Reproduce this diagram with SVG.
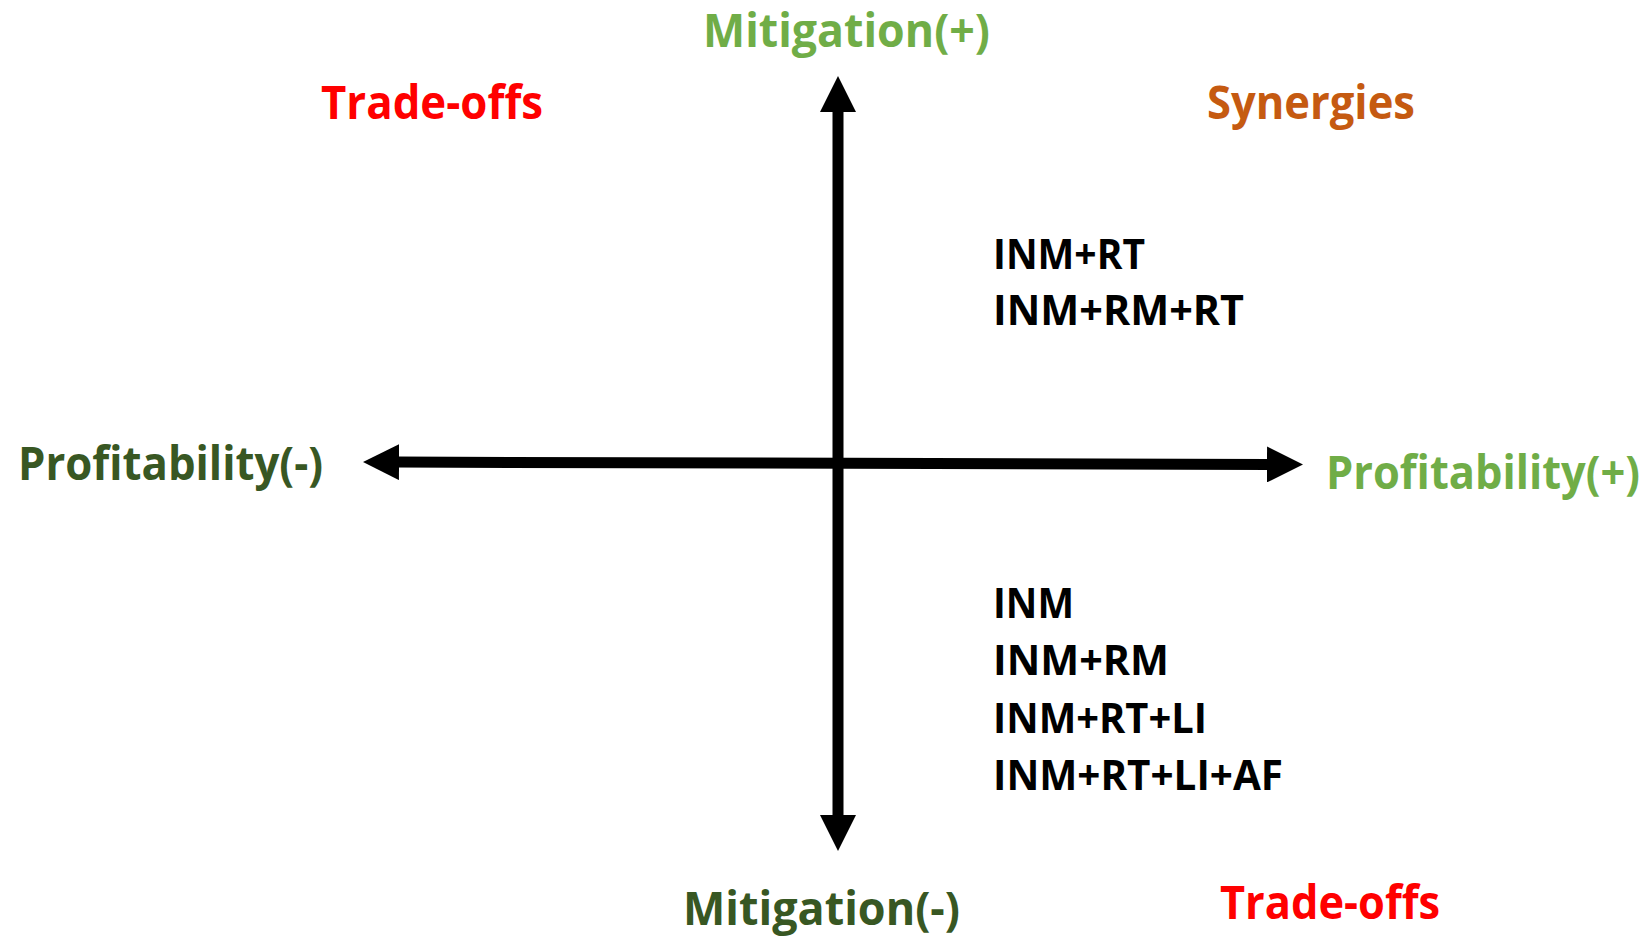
<svg xmlns="http://www.w3.org/2000/svg" width="1652" height="937" viewBox="0 0 1652 937">
<style>
text { font-family: "Open Sans", "Liberation Sans", sans-serif; font-weight: bold; }
.axis { font-size: 47px; }
.quad { font-size: 47px; }
.item { font-size: 41px; fill: #000000; }
.lg { fill: #70AD47; }
.dg { fill: #385723; }
.red { fill: #FF0000; }
.org { fill: #C55A11; }
.arrow { stroke: #000000; stroke-width: 11; fill: none; marker-start: url(#head); marker-end: url(#head); }
</style>
<defs>
<marker id="head" markerUnits="userSpaceOnUse" markerWidth="36" markerHeight="36" refX="2" refY="18" orient="auto-start-reverse" viewBox="0 0 36 36">
<path d="M0,0 L36,18 L0,36 z" fill="#000000"/>
</marker>
</defs>
<rect width="1652" height="937" fill="#FFFFFF"/>
<g id="connectors">
<line class="arrow" x1="838" y1="110" x2="838" y2="817"/>
<line class="arrow" x1="397" y1="462.1" x2="1269" y2="464.4"/>
</g>
<g id="mitigation-plus"><text class="axis lg" x="703" y="47" textLength="287" lengthAdjust="spacingAndGlyphs">Mitigation(+)</text></g>
<g id="mitigation-minus"><text class="axis dg" x="683" y="925" textLength="277" lengthAdjust="spacingAndGlyphs">Mitigation(-)</text></g>
<g id="profitability-minus"><text class="axis dg" x="18" y="480" textLength="305" lengthAdjust="spacingAndGlyphs">Profitability(-)</text></g>
<g id="profitability-plus"><text class="axis lg" x="1326" y="489" textLength="314" lengthAdjust="spacingAndGlyphs">Profitability(+)</text></g>
<g id="tradeoffs-top"><text class="quad red" x="321" y="119" textLength="222" lengthAdjust="spacingAndGlyphs">Trade-offs</text></g>
<g id="synergies"><text class="quad org" x="1207" y="119" textLength="208" lengthAdjust="spacingAndGlyphs">Synergies</text></g>
<g id="tradeoffs-bottom"><text class="quad red" x="1220" y="919" textLength="220" lengthAdjust="spacingAndGlyphs">Trade-offs</text></g>
<g id="synergy-items">
<text class="item" x="993" y="269" textLength="152" lengthAdjust="spacingAndGlyphs">INM+RT</text>
<text class="item" x="993" y="325" textLength="251" lengthAdjust="spacingAndGlyphs">INM+RM+RT</text>
</g>
<g id="tradeoff-items">
<text class="item" x="993" y="618" textLength="81" lengthAdjust="spacingAndGlyphs">INM</text>
<text class="item" x="993" y="675" textLength="176" lengthAdjust="spacingAndGlyphs">INM+RM</text>
<text class="item" x="993" y="733" textLength="214" lengthAdjust="spacingAndGlyphs">INM+RT+LI</text>
<text class="item" x="993" y="790" textLength="290" lengthAdjust="spacingAndGlyphs">INM+RT+LI+AF</text>
</g>
</svg>
